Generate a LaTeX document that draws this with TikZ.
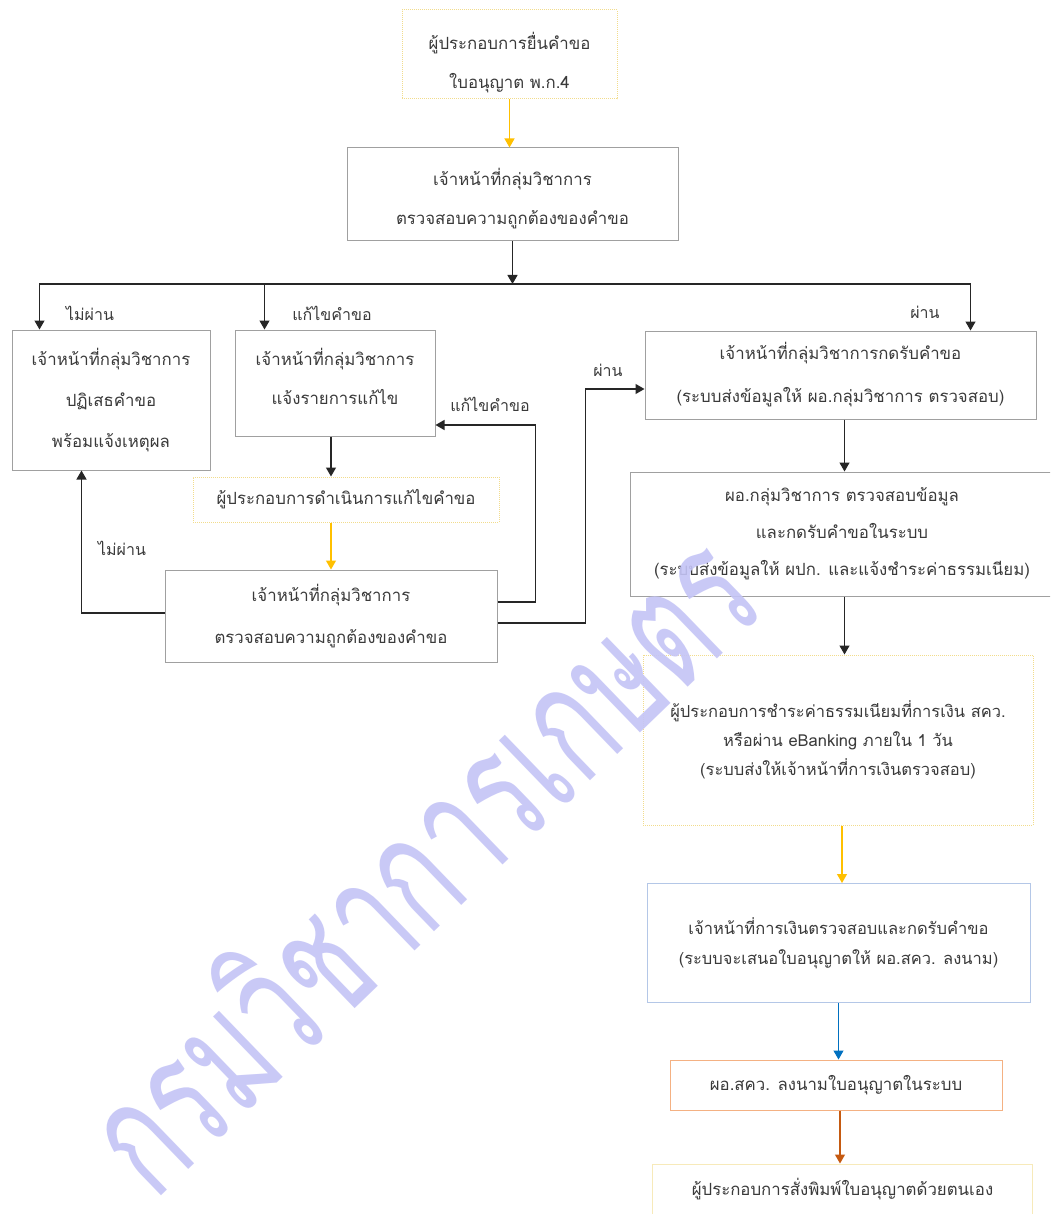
\documentclass[tikz,border=0pt]{standalone}
\usepackage{fontspec}
\newfontfamily\thaifont[Script=Thai]{Loma}
\usetikzlibrary{arrows.meta,calc}
\definecolor{txt}{HTML}{3A3A3A}
\definecolor{boxgray}{HTML}{A0A0A0}
\definecolor{ylwbox}{HTML}{F2DC8C}
\definecolor{arrY}{HTML}{FFC000}
\definecolor{arrB}{HTML}{0070C0}
\definecolor{arrO}{HTML}{C55A11}
\definecolor{bluebox}{HTML}{B4C7E7}
\definecolor{orbox}{HTML}{F4B183}
\definecolor{lnk}{HTML}{262626}
\definecolor{wm}{HTML}{C4C4F6}
\newcommand{\lowerln}[2]{\raisebox{#1}[\height][\depth]{#2}}
\tikzset{
  box/.style={draw=boxgray, line width=1pt, text=txt, align=center, inner sep=0pt,
    font=\thaifont\fontsize{16.8}{39}\selectfont},
  ybox/.style={box, draw=ylwbox, densely dotted},
  arrK/.style={-{Triangle[width=10pt,length=9pt]}, line width=1.3pt, draw=lnk},
  arrYl/.style={arrK, draw=arrY, line width=1.2pt, -{Triangle[width=10pt,length=9pt,fill=arrY]}},
  arrBl/.style={arrK, draw=arrB, line width=1.2pt},
  arrOl/.style={arrK, draw=arrO, line width=1.2pt},
  lbl/.style={text=txt, inner sep=0pt, font=\thaifont\fontsize{16}{18}\selectfont},
}
\begin{document}
\begin{tikzpicture}[x=1pt,y=-1pt]
\useasboundingbox (0,0) rectangle (1050,1214);
\clip (0,0) rectangle (1050,1214);
\fill[white] (0,0) rectangle (1050,1214);
% boxes
\node[ybox, minimum width=215pt, minimum height=89pt] (b1) at (509.5,54.5) {\lowerln{-8pt}{ผู้ประกอบการยื่นคำขอ}\\\lowerln{-8pt}{ใบอนุญาต พ.ก.4}};
\node[box, minimum width=331pt, minimum height=93pt] (b2) at (512.5,194.5) {\lowerln{-4pt}{เจ้าหน้าที่กลุ่มวิชาการ}\\\lowerln{-4pt}{ตรวจสอบความถูกต้องของคำขอ}};
\node[box, minimum width=198pt, minimum height=140pt, font=\thaifont\fontsize{16.8}{41}\selectfont] (rej) at (111,400) {เจ้าหน้าที่กลุ่มวิชาการ\\ปฏิเสธคำขอ\\พร้อมแจ้งเหตุผล};
\node[box, minimum width=200pt, minimum height=106pt] (fix) at (335,383) {\lowerln{7pt}{เจ้าหน้าที่กลุ่มวิชาการ}\\\lowerln{7pt}{แจ้งรายการแก้ไข}};
\node[ybox, minimum width=306pt, minimum height=45pt] (op) at (346,499.5) {ผู้ประกอบการดำเนินการแก้ไขคำขอ};
\node[box, minimum width=332pt, minimum height=92pt, font=\thaifont\fontsize{16.8}{42}\selectfont] (chk) at (331,616) {เจ้าหน้าที่กลุ่มวิชาการ\\ตรวจสอบความถูกต้องของคำขอ};
\node[box, minimum width=391pt, minimum height=88pt, font=\thaifont\fontsize{16.8}{43}\selectfont] (b3) at (840.5,375) {เจ้าหน้าที่กลุ่มวิชาการกดรับคำขอ\\(ระบบส่งข้อมูลให้ ผอ.กลุ่มวิชาการ ตรวจสอบ)};
\node[box, minimum width=424pt, minimum height=124pt, font=\thaifont\fontsize{16.8}{37}\selectfont] (b4) at (842,534) {ผอ.กลุ่มวิชาการ ตรวจสอบข้อมูล\\และกดรับคำขอในระบบ\\(ระบบส่งข้อมูลให้ ผปก. และแจ้งชำระค่าธรรมเนียม)};
\node[ybox, minimum width=390pt, minimum height=170pt, font=\thaifont\fontsize{16.5}{29}\selectfont] (b5) at (838,740) {ผู้ประกอบการชำระค่าธรรมเนียมที่การเงิน สคว.\\หรือผ่าน eBanking ภายใน 1 วัน\\(ระบบส่งให้เจ้าหน้าที่การเงินตรวจสอบ)};
\node[box, draw=bluebox, minimum width=383pt, minimum height=119pt, font=\thaifont\fontsize{16.5}{30}\selectfont] (b6) at (838.5,943) {เจ้าหน้าที่การเงินตรวจสอบและกดรับคำขอ\\(ระบบจะเสนอใบอนุญาตให้ ผอ.สคว. ลงนาม)};
\node[box, draw=orbox, minimum width=332pt, minimum height=50pt] (b7) at (836,1085) {ผอ.สคว. ลงนามใบอนุญาตในระบบ};
\node[ybox, draw=ylwbox!60, solid, minimum width=380pt, minimum height=50pt] (b8) at (842.5,1189) {ผู้ประกอบการสั่งพิมพ์ใบอนุญาตด้วยตนเอง};
% connectors
\coordinate (split) at (512.5,284);
\draw[arrYl] (b1.south) -- (b1.south |- b2.north);
\draw[arrK] (b2.south) -- (split);
\draw[arrK] (split) -| ([xshift=28pt]rej.north west);
\draw[arrK] (split) -| ([xshift=30pt]fix.north west);
\draw[arrK] (split) -| ([xshift=-66pt]b3.north east);
\node[lbl] (l1) at (90,313) {ไม่ผ่าน};
\node[lbl] (l2) at (332,313) {แก้ไขคำขอ};
\node[lbl] (l3) at (925,312) {ผ่าน};
\draw[arrK] ([xshift=-4pt]fix.south) -- ([xshift=-4pt]fix.south |- op.north);
\draw[arrYl] (op.south -| chk.north) -- (chk.north);
\draw[arrK] ([yshift=3pt]chk.west) -| ([xshift=70pt]rej.south west);
\node[lbl] (l4) at (122,548) {ไม่ผ่าน};
\draw[arrK] ([yshift=14pt]chk.east) -- ++(38,0) |- ([yshift=-42pt]fix.east);
\node[lbl] (l5) at (490,404) {แก้ไขคำขอ};
\draw[arrK] ([yshift=-7pt]chk.east) -- ++(88,0) |- ([yshift=-14pt]b3.west);
\node[lbl] (l6) at (608,370) {ผ่าน};
\draw[arrK] ([xshift=4pt]b3.south) -- ([xshift=4pt]b3.south |- b4.north);
\draw[arrK] ([xshift=4pt]b3.south |- b4.south) -- ([xshift=4pt]b3.south |- b5.north);
\draw[arrYl] ([xshift=4pt]b5.south) -- ([xshift=4pt]b5.south |- b6.north);
\draw[arrBl] (b6.south) -- (b6.south |- b7.north);
\draw[arrOl] ([xshift=4pt]b7.south) -- ([xshift=4pt]b7.south |- b8.north);
% watermark
\node[text=wm, opacity=0.9, rotate=44, inner sep=0pt, font=\thaifont\fontsize{165}{175}\selectfont] (wmk) at (416,858) {\scalebox{0.64}[1]{กรมวิชาการเกษตร}};
\end{tikzpicture}
\end{document}
